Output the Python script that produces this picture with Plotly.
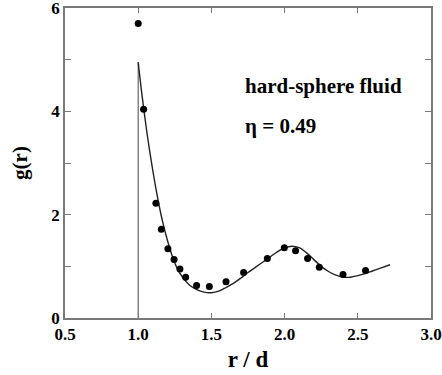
import plotly.graph_objects as go

# Simulation points
r_sim = [1.000, 1.037, 1.121, 1.158, 1.203, 1.245, 1.285, 1.324, 1.399, 1.486,
         1.600, 1.720, 1.882, 1.998, 2.075, 2.157, 2.237, 2.399, 2.553]
g_sim = [5.70, 4.04, 2.22, 1.72, 1.34, 1.13, 0.95, 0.79, 0.63, 0.61,
         0.70, 0.88, 1.15, 1.36, 1.30, 1.15, 0.98, 0.84, 0.92]

# Theory curve
r_th = [1.00, 1.02, 1.04, 1.06, 1.08, 1.10, 1.12, 1.14, 1.16, 1.18, 1.20, 1.23,
        1.26, 1.30, 1.35, 1.40, 1.45, 1.50, 1.55, 1.60, 1.65, 1.70, 1.75, 1.80,
        1.85, 1.90, 1.95, 2.00, 2.05, 2.10, 2.15, 2.20, 2.25, 2.30, 2.35, 2.40,
        2.45, 2.50, 2.55, 2.60, 2.65, 2.72]
g_th = [4.95, 4.45, 4.00, 3.58, 3.20, 2.85, 2.52, 2.22, 1.95, 1.71, 1.50, 1.22,
        1.00, 0.80, 0.64, 0.55, 0.50, 0.49, 0.52, 0.59, 0.67, 0.77, 0.88, 0.98,
        1.08, 1.18, 1.28, 1.36, 1.39, 1.36, 1.26, 1.13, 1.00, 0.90, 0.83, 0.79,
        0.79, 0.82, 0.86, 0.91, 0.96, 1.03]

# Hard-core contact line
r_core = [1.0, 1.0]
g_core = [0.0, 4.95]

x_ticks = [0.5, 1.0, 1.5, 2.0, 2.5, 3.0]
x_labels = ["0.5", "1.0", "1.5", "2.0", "2.5", "3.0"]
y_ticks = [0, 2, 4, 6]

serif = "Liberation Serif"
axis_col = "#7a7a7a"

fig = go.Figure()
fig.add_trace(go.Scatter(x=r_core, y=g_core, mode="lines",
                         line=dict(color="#666666", width=1.2), showlegend=False))
fig.add_trace(go.Scatter(x=r_th, y=g_th, mode="lines", line_shape="spline",
                         line=dict(color="#222222", width=1.4), showlegend=False))
fig.add_trace(go.Scatter(x=r_sim, y=g_sim, mode="markers",
                         marker=dict(color="black", size=7), showlegend=False))

tickfont = dict(family=serif, size=17, color="black", weight="bold")
fig.update_xaxes(range=[0.5, 3.0], tickvals=x_ticks, ticktext=x_labels,
                 ticks="inside", ticklen=5, tickcolor=axis_col, tickwidth=1,
                 showline=True, linecolor=axis_col, linewidth=1.5, mirror="ticks",
                 showgrid=False, zeroline=False, tickfont=tickfont,
                 ticklabeloverflow="allow", automargin=False,
                 title=dict(text="r / d", font=dict(family=serif, size=23, color="black", weight="bold"),
                            standoff=8))
fig.update_yaxes(range=[0, 6], tickvals=y_ticks,
                 ticks="inside", ticklen=6, tickcolor=axis_col, tickwidth=1,
                 minor=dict(dtick=1, ticks="inside", ticklen=6, tickcolor=axis_col, showgrid=False),
                 showline=True, linecolor=axis_col, linewidth=1.5, mirror="ticks",
                 showgrid=False, zeroline=False, tickfont=tickfont,
                 ticklabeloverflow="allow", automargin=False,
                 title=dict(text="g(r)", font=dict(family=serif, size=21, color="black", weight="bold"),
                            standoff=18))

fig.add_annotation(x=1.718, y=4.49, xref="x", yref="y", text="hard-sphere fluid",
                   showarrow=False, xanchor="left", yanchor="middle",
                   font=dict(family=serif, size=21, color="black", weight="bold"))
fig.add_annotation(x=1.718, y=3.72, xref="x", yref="y", text="η = 0.49",
                   showarrow=False, xanchor="left", yanchor="middle",
                   font=dict(family=serif, size=21, color="black", weight="bold"))

fig.update_layout(width=442, height=375, margin=dict(l=65, r=11, t=8, b=57),
                  plot_bgcolor="white", paper_bgcolor="white")

fig.write_html("out.html")
